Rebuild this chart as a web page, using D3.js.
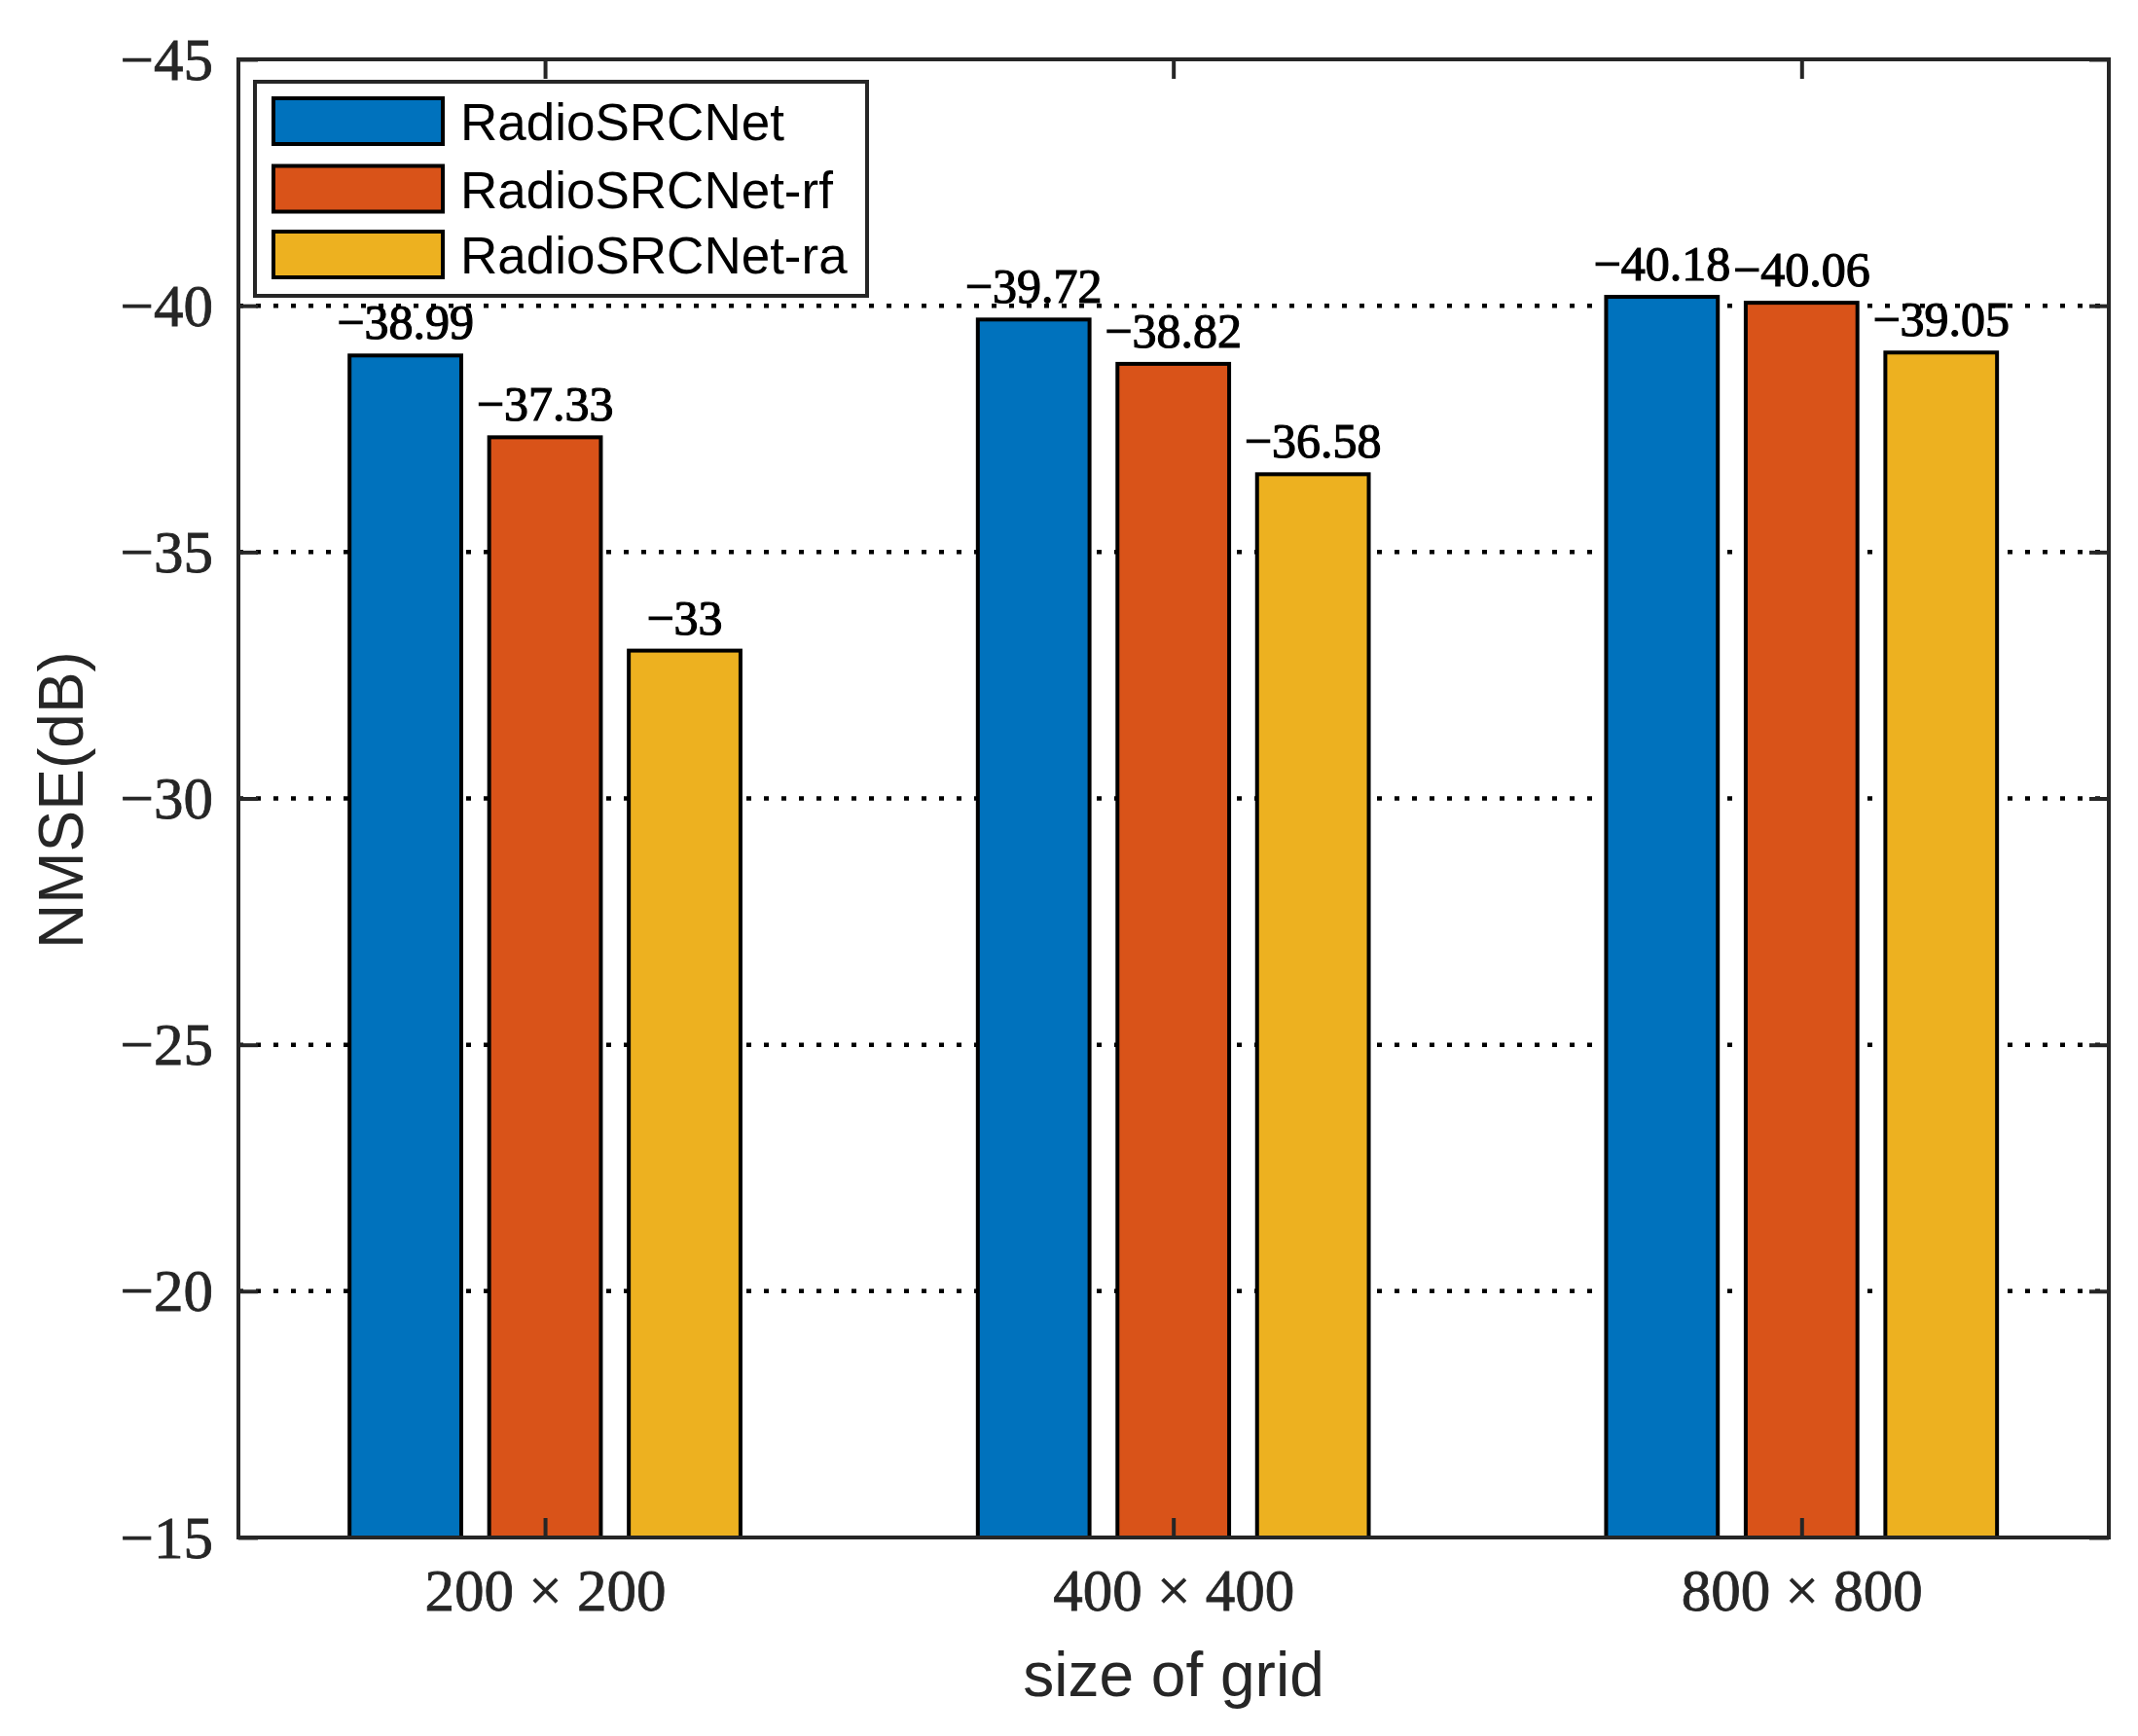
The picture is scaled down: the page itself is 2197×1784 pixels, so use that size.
<!DOCTYPE html>
<html>
<head>
<meta charset="utf-8">
<script src="https://cdn.jsdelivr.net/npm/d3@7"></script>
<style>
  html, body { margin: 0; padding: 0; background: #fff; }
  svg { display: block; }
</style>
</head>
<body>
<svg id="chart" width="2197" height="1784"></svg>
<script>
// ---- data ----
const categories = ["200 × 200", "400 × 400", "800 × 800"];
const seriesNames = ["RadioSRCNet", "RadioSRCNet-rf", "RadioSRCNet-ra"];
const seriesColors = ["#0072BD", "#D95319", "#EDB120"];
const radioSRCNet   = [-38.99, -39.72, -40.18];
const radioSRCNetRf = [-37.33, -38.82, -40.06];
const radioSRCNetRa = [-33.00, -36.58, -39.05];
const yTicks = [-45, -40, -35, -30, -25, -20, -15];
const yLabel = "NMSE(dB)";
const xLabel = "size of grid";

const seriesValues = [radioSRCNet, radioSRCNetRf, radioSRCNetRa];

// ---- layout ----
const L = 245, R = 2167, T = 61, B = 1580;
const svg = d3.select("#chart");
svg.append("rect").attr("width", 2197).attr("height", 1784).attr("fill", "#fff");

const x = d3.scaleLinear().domain([0.512, 3.489]).range([L, R]);
const y = d3.scaleLinear().domain([-15, -45]).range([B, T]);

const nS = seriesValues.length;
const groupWidth = Math.min(0.8, nS / (nS + 1.5));
const step = groupWidth / nS;
const barW = 0.8 * step;
const fmt = v => String(v).replace("-", "\u2212");

const axisColor = "#262626";
const serif = "'Liberation Serif', 'DejaVu Serif', serif";
const sans = "'Liberation Sans', Arial, sans-serif";

// grid
svg.append("g").selectAll("line")
  .data(yTicks.filter(t => t !== -45 && t !== -15))
  .join("line")
  .attr("x1", L).attr("x2", R)
  .attr("y1", d => y(d)).attr("y2", d => y(d))
  .attr("stroke", "#000").attr("stroke-width", 4.5)
  .attr("stroke-dasharray", "5 13");

// bars
const bars = [];
seriesValues.forEach((vals, s) => {
  vals.forEach((v, i) => {
    const c = (i + 1) + (s - (nS - 1) / 2) * step;
    bars.push({ s, i, v, c });
  });
});
const gBars = svg.append("g");
gBars.selectAll("rect").data(bars).join("rect")
  .attr("x", d => x(d.c - barW / 2))
  .attr("width", d => x(d.c + barW / 2) - x(d.c - barW / 2))
  .attr("y", d => y(d.v))
  .attr("height", d => y(-15) - y(d.v))
  .attr("fill", d => seriesColors[d.s])
  .attr("stroke", "#000").attr("stroke-width", 4);

// value labels
svg.append("g").selectAll("text").data(bars).join("text")
  .attr("x", d => x(d.c))
  .attr("y", d => y(d.v) - 17)
  .attr("text-anchor", "middle")
  .attr("font-family", serif)
  .attr("font-size", 50)
  .attr("fill", "#000")
  .attr("stroke", "#000").attr("stroke-width", 1.2)
  .text(d => fmt(d.v));

// axes box
svg.append("rect")
  .attr("x", L).attr("y", T).attr("width", R - L).attr("height", B - T)
  .attr("fill", "none").attr("stroke", axisColor).attr("stroke-width", 4);

// y ticks (left & right, inward)
const tickLen = 20;
const yAxisL = d3.axisLeft(y).tickValues(yTicks).tickSize(-tickLen).tickPadding(26).tickFormat(fmt);
const gyL = svg.append("g").attr("transform", `translate(${L},0)`).call(yAxisL);
gyL.select(".domain").remove();
gyL.selectAll(".tick line").attr("stroke", axisColor).attr("stroke-width", 4);
gyL.selectAll(".tick text")
  .attr("font-family", serif).attr("font-size", 61).attr("fill", axisColor)
  .attr("stroke", axisColor).attr("stroke-width", 0.8)
  .attr("x", -26).attr("dy", "0.33em");

const yAxisR = d3.axisRight(y).tickValues(yTicks).tickSize(-tickLen).tickFormat("");
const gyR = svg.append("g").attr("transform", `translate(${R},0)`).call(yAxisR);
gyR.select(".domain").remove();
gyR.selectAll(".tick line").attr("stroke", axisColor).attr("stroke-width", 4);

// x ticks (bottom & top, inward)
const xAxisB = d3.axisBottom(x).tickValues([1, 2, 3]).tickSize(-tickLen).tickPadding(0)
  .tickFormat((d, i) => categories[i]);
const gxB = svg.append("g").attr("transform", `translate(0,${B})`).call(xAxisB);
gxB.select(".domain").remove();
gxB.selectAll(".tick line").attr("stroke", axisColor).attr("stroke-width", 4);
gxB.selectAll(".tick text")
  .attr("font-family", serif).attr("font-size", 61).attr("fill", axisColor)
  .attr("stroke", axisColor).attr("stroke-width", 0.8)
  .attr("y", 75).attr("dy", 0);

const xAxisT = d3.axisTop(x).tickValues([1, 2, 3]).tickSize(-tickLen).tickFormat("");
const gxT = svg.append("g").attr("transform", `translate(0,${T})`).call(xAxisT);
gxT.select(".domain").remove();
gxT.selectAll(".tick line").attr("stroke", axisColor).attr("stroke-width", 4);

// axis labels
svg.append("text")
  .attr("transform", `translate(85,822) rotate(-90)`)
  .attr("text-anchor", "middle")
  .attr("font-family", sans).attr("font-size", 64).attr("fill", axisColor)
  .text(yLabel);
svg.append("text")
  .attr("x", (L + R) / 2).attr("y", 1743)
  .attr("text-anchor", "middle")
  .attr("font-family", sans).attr("font-size", 64).attr("fill", axisColor)
  .text(xLabel);

// legend
const lg = svg.append("g");
lg.append("rect")
  .attr("x", 262).attr("y", 84).attr("width", 629).attr("height", 220)
  .attr("fill", "#fff").attr("stroke", axisColor).attr("stroke-width", 4);
const rowY = [124.5, 194, 261.5];
seriesNames.forEach((name, s) => {
  lg.append("rect")
    .attr("x", 281).attr("y", rowY[s] - 23.5).attr("width", 174).attr("height", 47)
    .attr("fill", seriesColors[s]).attr("stroke", "#000").attr("stroke-width", 4);
  lg.append("text")
    .attr("x", 473).attr("y", rowY[s] + 19.5)
    .attr("font-family", sans).attr("font-size", 53).attr("fill", "#000")
    .text(name);
});
</script>
</body>
</html>
